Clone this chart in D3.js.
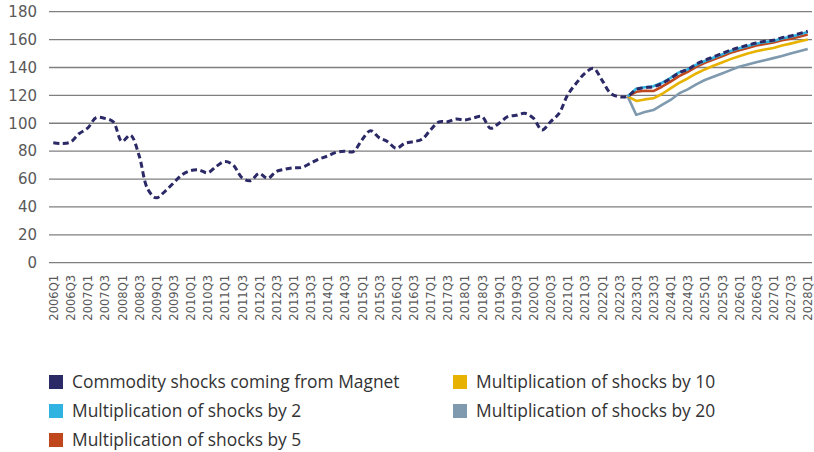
<!DOCTYPE html>
<html><head><meta charset="utf-8">
<script src="https://d3js.org/d3.v7.min.js"></script>
<style>body{margin:0;background:#fff}svg{display:block}</style>
</head><body><svg id="c" width="814" height="452"></svg>
<script>
const quarters = [];
for (let y = 2006; y <= 2028; y++) for (let q = 1; q <= 4; q++) { if (y === 2028 && q > 1) break; quarters.push(y + "Q" + q); }

const magnet = [86,85.5,86.5,92.5,96.5,104,103.5,101,87,91.5,77,53,46.5,51,57,63,66,66.5,64.5,69,72.5,70,61,58.8,64,60.5,65.3,67,68.1,68.3,71.3,74.4,76.5,79.2,79.9,79.7,88,94.7,89.7,86.8,82,85.6,86.8,88.5,95.2,101,101.1,103,102.3,103.8,104.7,96.4,100,104.7,105.7,107.1,103.6,95.2,101.1,107.1,120.3,128.7,135.8,139.4,131,121.5,119,119.3,124.3,125.5,126.2,128.6,132.1,136.2,138.6,142.4,145.2,147.6,150,152.4,154.3,156,157.6,158.8,159.5,161.4,162.6,164.3,166];
const scenStart = "2022Q4";
const by2  = [119.3,124.8,125.8,126.5,129,132.5,136.5,138.6,142,144.6,147,149.4,151.8,153.7,155.4,157,158.2,159,160.8,162,163.7,165.4];
const by5  = [119.3,122.6,123.3,123.1,126.2,129.8,133.8,136.9,140.5,143.3,145.7,148.1,150.5,152.4,154,155.7,156.9,157.9,159.5,160.7,162.1,163.6];
const by10 = [119.3,116,117.1,117.9,121,125,129,132.1,135.7,138.6,141.2,143.6,146,148.1,150,151.7,152.9,154,155.7,157.1,158.6,160];
const by20 = [119.3,106,108.1,109.5,113.1,116.7,121.4,124.3,127.9,131,133.3,135.7,138.1,140.5,142.1,143.8,145.2,146.7,148.3,150,151.7,153.3];
const yTicks = [0,20,40,60,80,100,120,140,160,180];
const seriesNames = ["Commodity shocks coming from Magnet","Multiplication of shocks by 2","Multiplication of shocks by 5","Multiplication of shocks by 10","Multiplication of shocks by 20"];
const seriesColors = ["#2b2966","#31b3e2","#c0461c","#e7b300","#7f9aae"];

const svg = d3.select("#c");
const x = d3.scalePoint().domain(quarters).range([49, 812]).padding(0.5);
const y = d3.scaleLinear().domain([0,180]).range([262.7, 11.7]);

// gridlines
svg.append("g").selectAll("line").data(yTicks).join("line")
  .attr("x1", 49).attr("x2", 812)
  .attr("y1", d => y(d)).attr("y2", d => y(d))
  .attr("stroke", "#7f7f7f").attr("stroke-width", 1.3);

// y axis labels
const yAxis = d3.axisLeft(y).tickValues(yTicks).tickSize(0).tickPadding(0);
const gy = svg.append("g").attr("transform", "translate(37,0)").call(yAxis);
gy.select(".domain").remove();
gy.selectAll("text").attr("font-family", "DejaVu Sans").attr("font-size", 15).attr("fill", "#595959");

// x labels
const xAxis = d3.axisBottom(x).tickValues(quarters.filter((q,i) => i % 2 === 0)).tickSize(0).tickPadding(0);
const gx = svg.append("g").attr("transform", "translate(0,275)").call(xAxis);
gx.select(".domain").remove();
gx.selectAll("text").attr("font-family", "DejaVu Sans").attr("font-size", 11.5).attr("fill", "#595959")
  .attr("text-anchor", "end").attr("transform", "rotate(-90)").attr("x", 0).attr("y", 0).attr("dy", "0.36em");

const startIdx = quarters.indexOf(scenStart);
const mk = arr => arr.map((v,i) => ({q: quarters[startIdx + i], v}));
const lineStraight = d3.line().x(d => x(d.q)).y(d => y(d.v));
const lineSmooth = d3.line().x(d => x(d.q)).y(d => y(d.v)).curve(d3.curveCatmullRom.alpha(0.5));

[[by20,4],[by10,3],[by5,2],[by2,1]].forEach(([arr,k]) => {
  svg.append("path").datum(mk(arr)).attr("d", lineStraight)
    .attr("fill","none").attr("stroke", seriesColors[k]).attr("stroke-width", 2.6).attr("stroke-linejoin","round");
});
svg.append("path").datum(magnet.map((v,i) => ({q: quarters[i], v})))
  .attr("d", lineSmooth).attr("fill","none").attr("stroke", seriesColors[0])
  .attr("stroke-width", 3).attr("stroke-dasharray", "6,3.5");

// legend
const legPos = [[49,382],[49,411],[49,440],[453,382],[453,411]];
const lg = svg.append("g").selectAll("g").data(seriesNames).join("g")
  .attr("transform", (d,i) => `translate(${legPos[i][0]},${legPos[i][1]})`);
lg.append("rect").attr("x",0).attr("y",-7).attr("width",14).attr("height",14).attr("fill",(d,i)=>seriesColors[i]);
lg.append("text").attr("x", 23).attr("y", 0).attr("dy","0.35em").text(d=>d)
  .attr("font-family","Open Sans").attr("font-size",17.4).attr("fill","#333333");
</script></body></html>
